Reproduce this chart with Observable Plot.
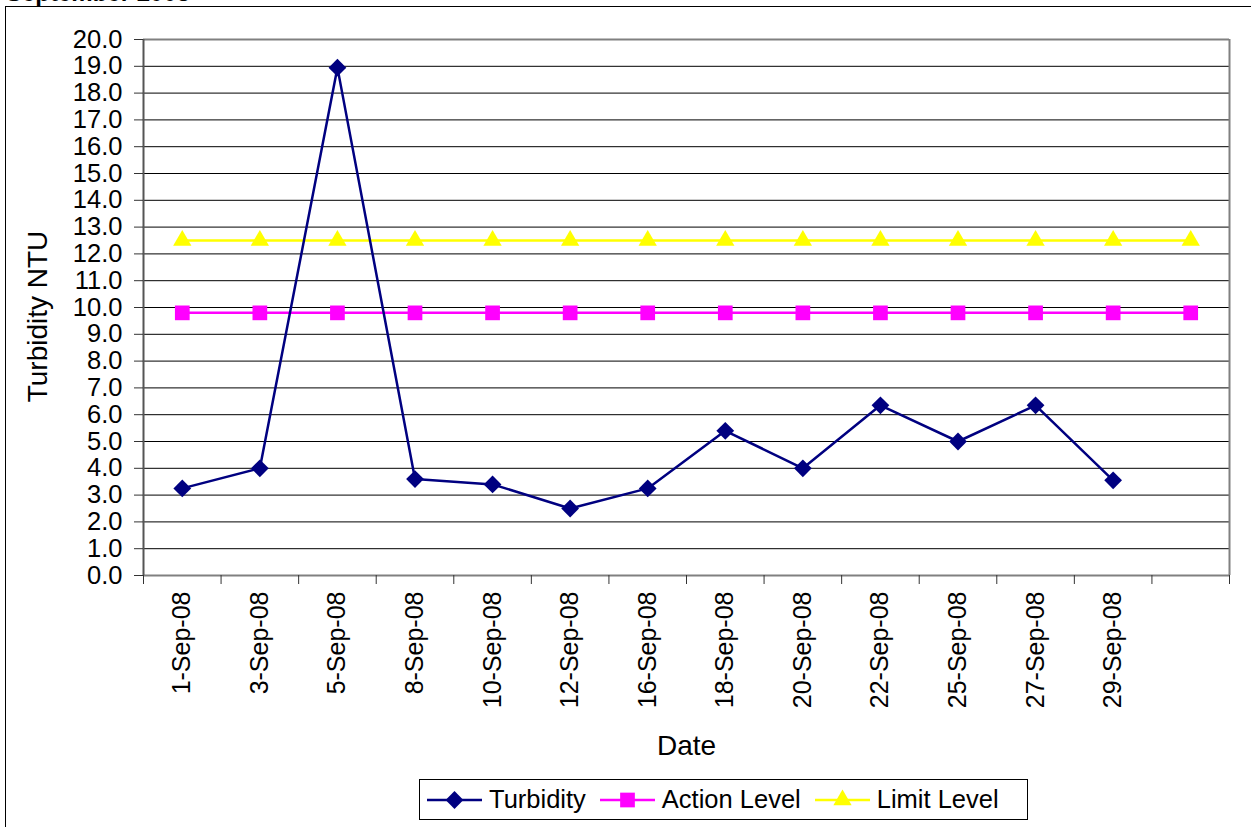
<!DOCTYPE html>
<html>
<head>
<meta charset="utf-8">
<script src="https://cdn.jsdelivr.net/npm/d3@7"></script>
<script src="https://cdn.jsdelivr.net/npm/@observablehq/plot@0.6"></script>
<style>
  html, body { margin: 0; padding: 0; background: #fff; overflow: hidden; }
  body { width: 1251px; height: 827px; position: relative; font-family: "Liberation Sans", Arial, sans-serif; }
  #frame { position: absolute; left: 5px; top: 6px; width: 1260px; height: 840px; border: 1px solid #000; box-sizing: border-box; }
  #title { position: absolute; left: 6px; top: -21px; font-weight: bold; font-size: 24px; line-height: 28px; white-space: nowrap; }
  #chart { position: absolute; left: 0; top: 0; }
  #legend { position: absolute; left: 419px; top: 779px; width: 609px; height: 41px; border: 1px solid #000; box-sizing: border-box; background: #fff;
            display: flex; align-items: center; padding-left: 7px; font-size: 25.5px; white-space: nowrap; }
  .item { display: flex; align-items: center; margin-right: 14px; }
  .item svg { margin-right: 7px; }
</style>
</head>
<body>
<div id="frame"></div>
<div id="title">September 2008</div>
<div id="chart"></div>
<div id="legend"></div>
<script>
const dates = ["1-Sep-08","3-Sep-08","5-Sep-08","8-Sep-08","10-Sep-08","12-Sep-08","16-Sep-08","18-Sep-08","20-Sep-08","22-Sep-08","25-Sep-08","27-Sep-08","29-Sep-08",""];
const turbidity = [3.25, 4.0, 18.95, 3.6, 3.4, 2.5, 3.25, 5.4, 4.0, 6.35, 5.0, 6.35, 3.55];
const actionLevel = [9.8, 9.8, 9.8, 9.8, 9.8, 9.8, 9.8, 9.8, 9.8, 9.8, 9.8, 9.8, 9.8, 9.8];
const limitLevel = [12.5, 12.5, 12.5, 12.5, 12.5, 12.5, 12.5, 12.5, 12.5, 12.5, 12.5, 12.5, 12.5, 12.5];
const yTicks = [0,1,2,3,4,5,6,7,8,9,10,11,12,13,14,15,16,17,18,19,20];

const series = [
  {name: "Turbidity", values: turbidity, color: "#000080", symbol: "diamond2", r: 8},
  {name: "Action Level", values: actionLevel, color: "#FF00FF", symbol: "square", r: 8.3},
  {name: "Limit Level", values: limitLevel, color: "#FFFF00", symbol: "triangle", r: 6.8}
];
const rows = s => s.values.map((v, i) => ({pos: i + 0.5, value: v, date: dates[i]}));

const bounds = d3.range(dates.length + 1);
const centers = dates.map((d, i) => i + 0.5);
const font = "'Liberation Sans', Arial, sans-serif";

const marks = [
  Plot.gridY(yTicks.slice(1, -1), {stroke: "#000", strokeOpacity: 1, strokeWidth: 1}),
  Plot.ruleY([20], {stroke: "#808080", strokeWidth: 2}),
  Plot.ruleX([dates.length], {stroke: "#808080", strokeWidth: 2}),
  Plot.ruleY([0], {stroke: "#808080", strokeWidth: 2}),
  Plot.ruleX([0], {stroke: "#555", strokeWidth: 2}),
  Plot.axisY(yTicks, {tickFormat: d => d.toFixed(1), tickSize: 9, tickPadding: 12, fontSize: 25.5, stroke: "#333", label: null}),
  Plot.axisX(bounds, {tickFormat: () => "", tickSize: 9, stroke: "#333", label: null}),
  Plot.axisX(centers, {tickFormat: v => dates[Math.floor(v)], tickSize: 0, tickPadding: 16, tickRotate: -90, fontSize: 25, label: null}),
  Plot.text(["Turbidity NTU"], {frameAnchor: "left", dx: -105, dy: 9, rotate: -90, textAnchor: "middle", lineAnchor: "middle", fontSize: 28, fill: "#000"}),
  Plot.text(["Date"], {frameAnchor: "bottom", dy: 171, textAnchor: "middle", lineAnchor: "middle", fontSize: 28, fill: "#000"})
];
for (const s of [series[2], series[1], series[0]]) {
  const data = rows(s);
  marks.push(Plot.line(data, {x: "pos", y: "value", stroke: s.color, strokeWidth: 2.5}));
  marks.push(Plot.dot(data, {x: "pos", y: "value", fill: s.color, symbol: s.symbol, r: s.r, stroke: "none"}));
}

const chart = Plot.plot({
  width: 1251,
  height: 770,
  marginLeft: 143,
  marginRight: 22,
  marginTop: 39,
  marginBottom: 195,
  style: {fontFamily: font, background: "transparent", color: "#000"},
  x: {type: "linear", domain: [0, dates.length], axis: null},
  y: {domain: [0, 20], axis: null},
  marks
});
document.getElementById("chart").appendChild(chart);

// legend
const legend = document.getElementById("legend");
const symMap = {diamond2: d3.symbolDiamond2, square: d3.symbolSquare, triangle: d3.symbolTriangle};
for (const s of series) {
  const item = document.createElement("div");
  item.className = "item";
  const sw = d3.create("svg").attr("width", 55).attr("height", 22);
  sw.append("line").attr("x1", 0).attr("x2", 55).attr("y1", 11).attr("y2", 11).attr("stroke", s.color).attr("stroke-width", 2.5);
  sw.append("path").attr("transform", "translate(27.5,11)").attr("d", d3.symbol(symMap[s.symbol], Math.PI * s.r * s.r)()).attr("fill", s.color);
  item.appendChild(sw.node());
  const t = document.createElement("span");
  t.textContent = s.name;
  item.appendChild(t);
  legend.appendChild(item);
}
</script>
</body>
</html>
